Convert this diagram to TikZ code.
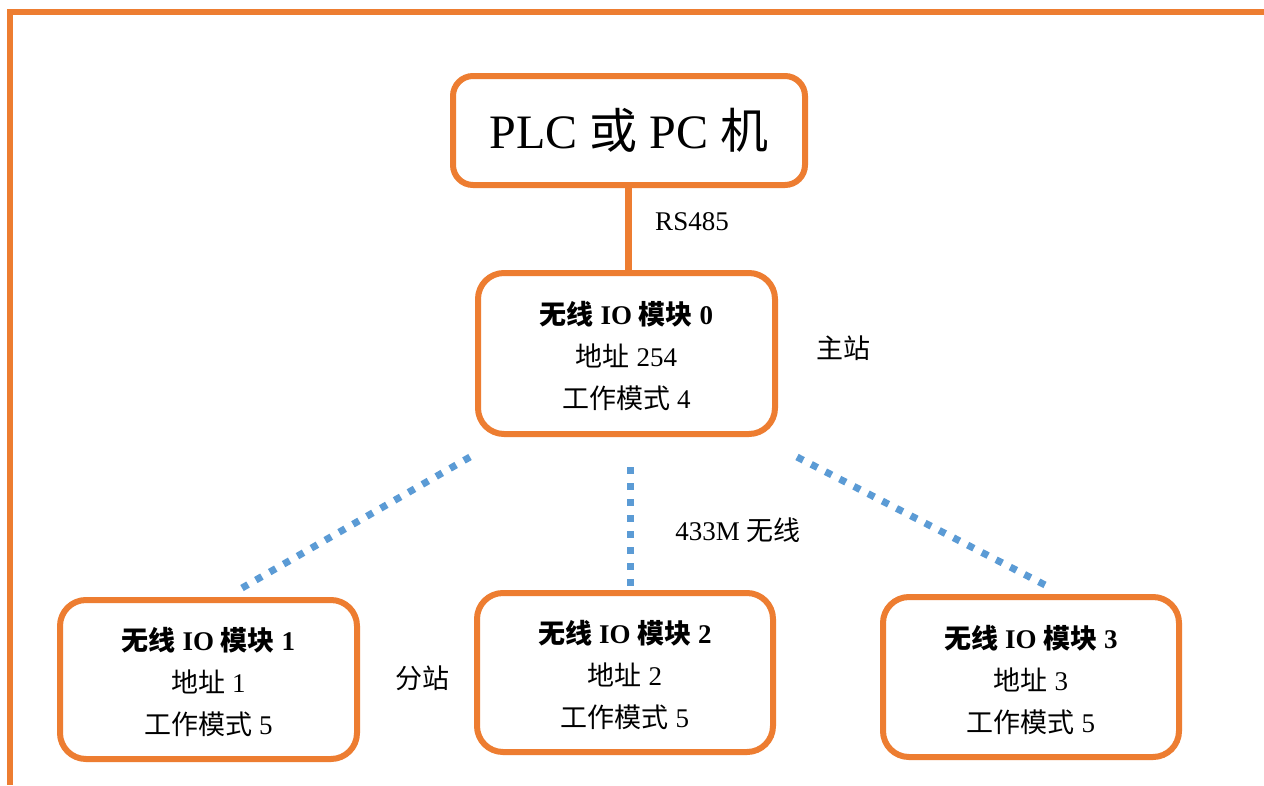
\documentclass[tikz,border=0pt]{standalone}
\usepackage{fontspec}
\setmainfont{Liberation Serif}
\newfontfamily\cjk{Noto Sans CJK SC}
\newcommand{\zh}[1]{{\cjk #1}}
\newcommand{\topstrut}{\rule{0pt}{28.5pt}}
\definecolor{frameor}{HTML}{ED7D31}
\definecolor{dotblue}{HTML}{5B9BD5}
\tikzset{
  box/.style={draw=frameor, line width=6pt, rounded corners=26pt, fill=white,
    align=center, inner sep=0pt, font=\fontsize{27}{42}\selectfont},
  lbl/.style={inner sep=0pt, font=\fontsize{27}{42}\selectfont},
  frameline/.style={draw=frameor, line width=6.5pt},
  solidlink/.style={draw=frameor, line width=7pt},
  radiolink/.style={draw=dotblue, line width=7pt, dash pattern=on 7pt off 9pt}
}
\begin{document}
\begin{tikzpicture}[x=1pt,y=-1pt]
\useasboundingbox (0,0) rectangle (1264,785);
\fill[white] (0,0) rectangle (1264,785);
\draw[frameline] (1264,12) -- (10,12) -- (10,785);

\node[box, minimum width=352pt, minimum height=109pt, rounded corners=20pt,
  font=\fontsize{48}{56}\selectfont] (plc) at (629,130.5) {PLC \zh{或} PC \zh{机}};

\node[box, minimum width=297pt, minimum height=161pt] (m0) at (626.5,353.5)
  {\topstrut\textbf{\zh{无线} IO \zh{模块} 0}\\\zh{地址} 254\\\zh{工作模式} 4};
\node[box, minimum width=297pt, minimum height=159pt] (m1) at (208.5,679.5)
  {\topstrut\textbf{\zh{无线} IO \zh{模块} 1}\\\zh{地址} 1\\\zh{工作模式} 5};
\node[box, minimum width=296pt, minimum height=159pt] (m2) at (625,672.5)
  {\topstrut\textbf{\zh{无线} IO \zh{模块} 2}\\\zh{地址} 2\\\zh{工作模式} 5};
\node[box, minimum width=296pt, minimum height=160pt] (m3) at (1031,677)
  {\topstrut\textbf{\zh{无线} IO \zh{模块} 3}\\\zh{地址} 3\\\zh{工作模式} 5};

\draw[solidlink] (plc.south -| 628,0) -- (m0.north -| 628,0);
\node[lbl] (rs) at (692,222) {RS485};

\coordinate (d1a) at (470,457); \coordinate (d1b) at (242,588);
\coordinate (d2a) at (630,467); \coordinate (d2b) at (630,588);
\coordinate (d3a) at (797,457); \coordinate (d3b) at (1047,586);
\draw[radiolink] (d1a) -- (d1b);
\draw[radiolink] (d2a) -- (d2b);
\draw[radiolink] (d3a) -- (d3b);

\node[lbl] (master) at (843,348) {\zh{主站}};
\node[lbl] (radio) at (738,530) {433M \zh{无线}};
\node[lbl] (slave) at (422,678) {\zh{分站}};
\end{tikzpicture}
\end{document}
